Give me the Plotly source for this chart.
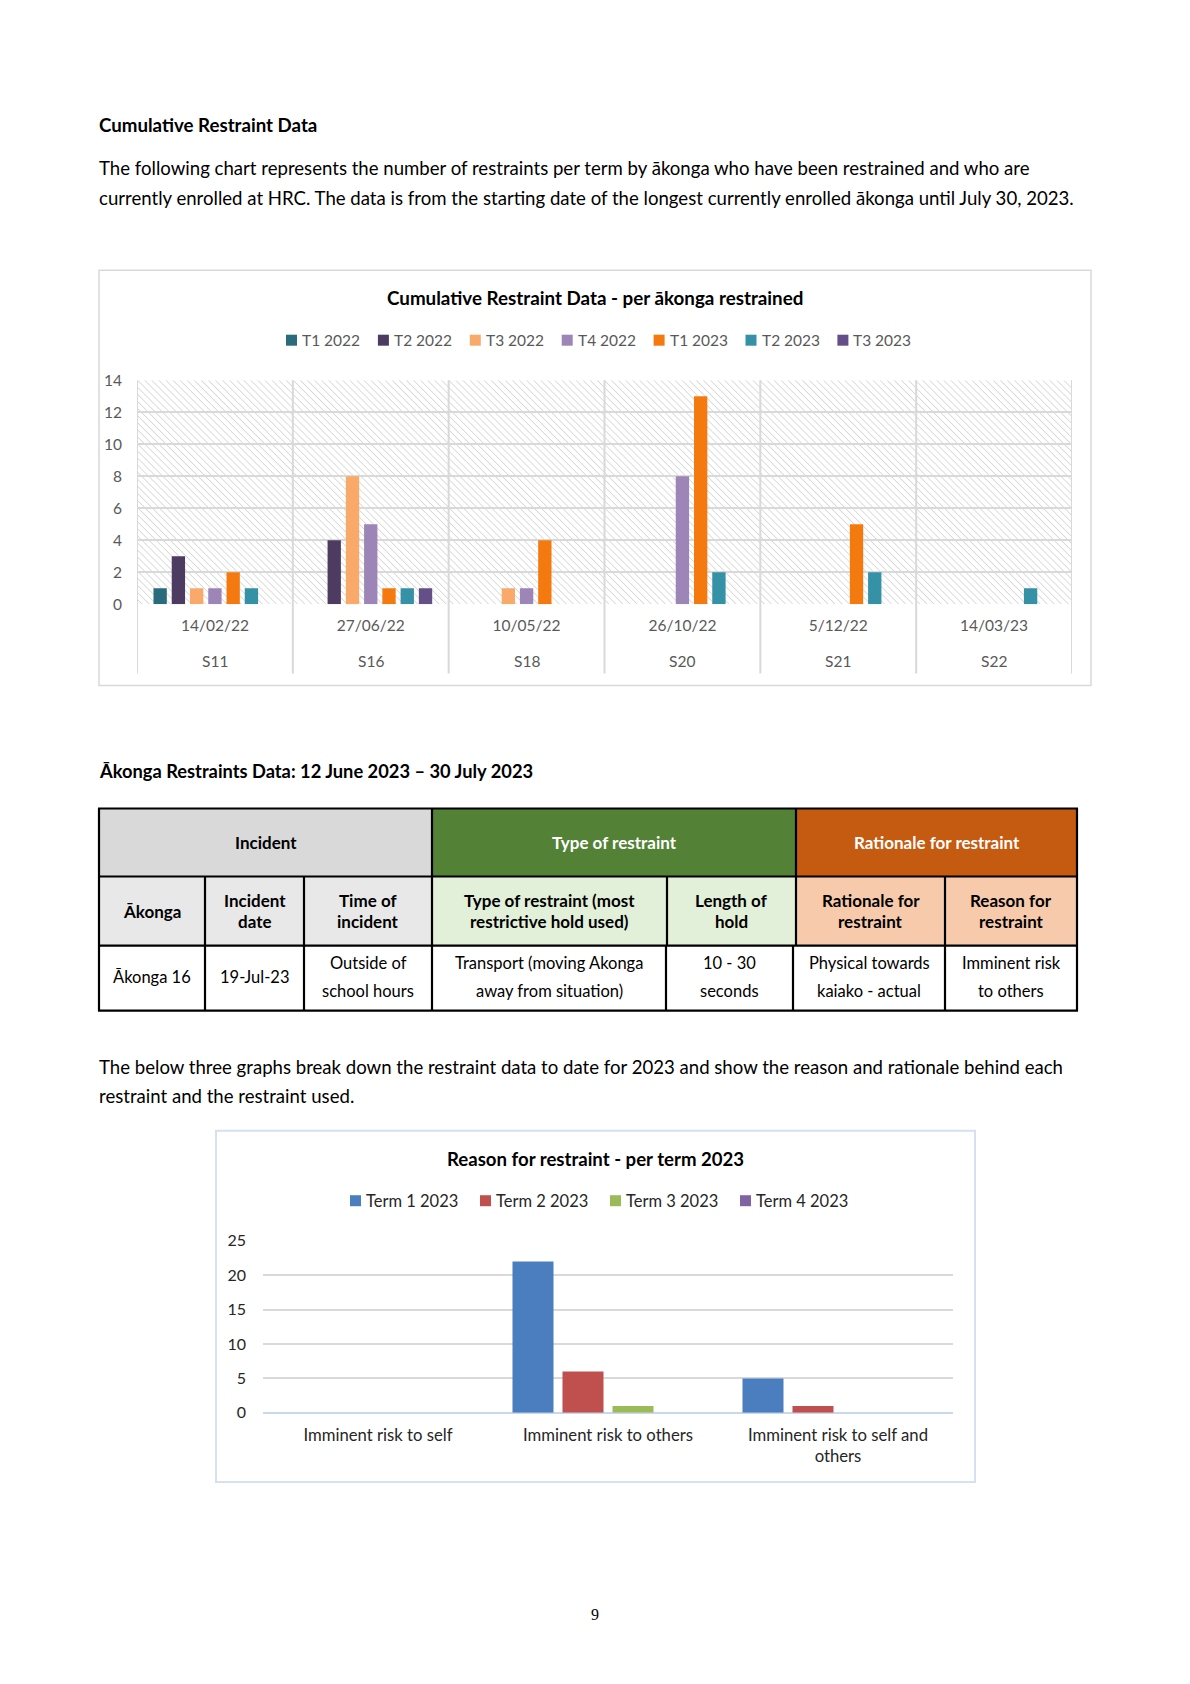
import base64
import plotly.graph_objects as go

W, H = 1190, 1684
OY = 10.0                 # vertical offset of the rendered paper
SY = (H - 2 * OY) / H     # vertical scale of the rendered paper
def px(x): return x / W
def py(y): return 1 - (y - OY) / (H * SY)
def ph(h): return h / (H * SY)

FONT = "Lato"

# ---------------- Chart 1 data ----------------
students = ["S11", "S16", "S18", "S20", "S21", "S22"]
start_dates = ["14/02/22", "27/06/22", "10/05/22", "26/10/22", "5/12/22", "14/03/23"]
terms = ["T1 2022", "T2 2022", "T3 2022", "T4 2022", "T1 2023", "T2 2023", "T3 2023"]
t1_2022 = [1, 0, 0, 0, 0, 0]
t2_2022 = [3, 4, 0, 0, 0, 0]
t3_2022 = [1, 8, 1, 0, 0, 0]
t4_2022 = [1, 5, 1, 8, 0, 0]
t1_2023 = [2, 1, 4, 13, 5, 0]
t2_2023 = [1, 1, 0, 2, 2, 1]
t3_2023 = [0, 1, 0, 0, 0, 0]
term_values = [t1_2022, t2_2022, t3_2022, t4_2022, t1_2023, t2_2023, t3_2023]
term_colors = ["#2A6B7C", "#4D3B62", "#F9AA6B", "#9D85B7", "#F47A10", "#3591A6", "#644F88"]

# ---------------- Chart 2 data ----------------
reasons = ["Imminent risk to self", "Imminent risk to others", "Imminent risk to self and others"]
reason_ticks = ["Imminent risk to self", "Imminent risk to others", "Imminent risk to self and<br>others"]
terms_2023 = ["Term 1 2023", "Term 2 2023", "Term 3 2023", "Term 4 2023"]
term1_2023 = [0, 22, 5]
term2_2023 = [0, 6, 1]
term3_2023 = [0, 1, 0]
term4_2023 = [0, 0, 0]
reason_values = [term1_2023, term2_2023, term3_2023, term4_2023]
reason_colors = ["#4A7EBF", "#C0504D", "#9BBB59", "#8064A2"]

# ---------------- Table data ----------------
group_headers = ["Incident", "Type of restraint", "Rationale for restraint"]
column_headers = ["Ākonga", "Incident\ndate", "Time of\nincident", "Type of restraint (most\nrestrictive hold used)",
                  "Length of\nhold", "Rationale for\nrestraint", "Reason for\nrestraint"]
row_values = ["Ākonga 16", "19-Jul-23", "Outside of\nschool hours", "Transport (moving Akonga\naway from situation)",
              "10 - 30\nseconds", "Physical towards\nkaiako - actual", "Imminent risk\nto others"]

fig = go.Figure()

for name, vals, col in zip(terms, term_values, term_colors):
    fig.add_trace(go.Bar(x=students, y=vals, name=name, marker=dict(color=col, line=dict(width=0)),
                         xaxis="x", yaxis="y", showlegend=False))

slot = 0.8696 / 4
barw = 0.1783
for k, (name, vals, col) in enumerate(zip(terms_2023, reason_values, reason_colors)):
    fig.add_trace(go.Bar(x=reasons, y=vals, name=name, marker=dict(color=col, line=dict(width=0)),
                         width=barw, offset=-0.4348 + k * slot + (slot - barw) / 2,
                         xaxis="x2", yaxis="y2", showlegend=False))

shapes = []
annotations = []

def text(x, y, s, size=17, bold=False, color="#000000", anchor="left", family=FONT):
    annotations.append(dict(x=px(x), y=py(y), xref="paper", yref="paper", text=(f"<b>{s}</b>" if bold else s),
                            showarrow=False, xanchor=anchor, yanchor="middle",
                            font=dict(family=family, size=size, color=color)))

def legend(names, colors, x_start, pitch, y, size, color):
    for k, (n, c) in enumerate(zip(names, colors)):
        x0 = x_start + k * pitch
        shapes.append(dict(type="rect", xref="paper", yref="paper", x0=px(x0), x1=px(x0 + 11),
                           y0=py(y + 5.5), y1=py(y - 5.5), line=dict(width=0), fillcolor=c))
        text(x0 + 14, y, n, size=size, color=color)

BODY = 18.6
# page texts
text(97, 125, "Cumulative Restraint Data", size=18.7, bold=True)
text(97, 168, "The following chart represents the number of restraints per term by ākonga who have been restrained and who are", size=BODY)
text(97, 198, "currently enrolled at HRC. The data is from the starting date of the longest currently enrolled ākonga until July 30, 2023.", size=BODY)
text(97, 771, "Ākonga Restraints Data: 12 June 2023 – 30 July 2023", size=18.3, bold=True)
text(97, 1066, "The below three graphs break down the restraint data to date for 2023 and show the reason and rationale behind each", size=BODY)
text(97, 1095, "restraint and the restraint used.", size=BODY)
text(595, 1614, "9", size=16, anchor="center", family="Liberation Serif")

# ---------------- Chart 1 frame ----------------
shapes.append(dict(type="rect", xref="paper", yref="paper", x0=px(99), x1=px(1091), y0=py(685), y1=py(270),
                   line=dict(color="#D9D9D9", width=1.5), fillcolor="rgba(0,0,0,0)", layer="below"))
text(595, 297, "Cumulative Restraint Data - per ākonga restrained", size=18.8, bold=True, anchor="center")
legend(terms, term_colors, 286, 91.9, 340, 15.5, "#595959")
for i in range(len(students) + 1):
    shapes.append(dict(type="line", xref="x", yref="paper", x0=i - 0.5, x1=i - 0.5, y0=py(673), y1=py(380),
                       line=dict(color="#D9D9D9", width=2)))
for s in students:
    annotations.append(dict(x=s, xref="x", y=py(661), yref="paper", text=s, showarrow=False,
                            xanchor="center", yanchor="middle", font=dict(family=FONT, size=15.5, color="#595959")))

# hatch background
svg = ("<svg xmlns='http://www.w3.org/2000/svg' width='935' height='224'>"
       "<defs><pattern id='h' width='5' height='5' patternUnits='userSpaceOnUse' patternTransform='rotate(-45)'>"
       "<line x1='0' y1='-1' x2='0' y2='6' stroke='#D6D6D6' stroke-width='1.6'/></pattern></defs>"
       "<rect width='100%' height='100%' fill='white'/><rect width='100%' height='100%' fill='url(#h)'/></svg>")
img_src = "data:image/svg+xml;base64," + base64.b64encode(svg.encode()).decode()

# ---------------- Chart 2 frame ----------------
shapes.append(dict(type="rect", xref="paper", yref="paper", x0=px(216), x1=px(975), y0=py(1481), y1=py(1130),
                   line=dict(color="#D5E0F0", width=2), fillcolor="rgba(0,0,0,0)", layer="below"))
text(595, 1158, "Reason for restraint - per term 2023", size=18.6, bold=True, anchor="center")
legend(terms_2023, reason_colors, 350, 130, 1200, 16.5, "#262626")

# ---------------- Table ----------------
top, r1, r2, bot = 808, 876, 945, 1010
edges_b = [99, 205, 304, 432, 667, 796, 945, 1077]
edges_c = [99, 205, 304, 432, 666, 793, 945, 1077]
group_edges = [99, 432, 796, 1077]
group_fill = ["#D9D9D9", "#538135", "#C55A11"]
group_font = ["#000000", "#FFFFFF", "#FFFFFF"]
col_fill = ["#E8E8E8", "#E8E8E8", "#E8E8E8", "#E2EFD9", "#E2EFD9", "#F7CAAC", "#F7CAAC"]
TB = 17
TR = 16.5

def rect(x0, x1, y0, y1, fill):
    shapes.append(dict(type="rect", xref="paper", yref="paper", x0=px(x0), x1=px(x1), y0=py(y1), y1=py(y0),
                       line=dict(width=0), fillcolor=fill, layer="below"))

def hline(x0, x1, y):
    shapes.append(dict(type="line", xref="paper", yref="paper", x0=px(x0), x1=px(x1), y0=py(y), y1=py(y),
                       line=dict(color="#000000", width=2.2)))

def vline(x, y0, y1):
    shapes.append(dict(type="line", xref="paper", yref="paper", x0=px(x), x1=px(x), y0=py(y0), y1=py(y1),
                       line=dict(color="#000000", width=2.2)))

for g in range(3):
    rect(group_edges[g], group_edges[g + 1], top, r1, group_fill[g])
    text((group_edges[g] + group_edges[g + 1]) / 2, (top + r1) / 2, group_headers[g], size=TB, bold=True,
         color=group_font[g], anchor="center")
for c in range(7):
    rect(edges_b[c], edges_b[c + 1], r1, r2, col_fill[c])
    lines = column_headers[c].split("\n")
    cx = (edges_b[c] + edges_b[c + 1]) / 2
    if len(lines) == 1:
        text(cx, (r1 + r2) / 2, lines[0], size=TB, bold=True, anchor="center")
    else:
        for j, ln in enumerate(lines):
            text(cx, 900 + j * 21, ln, size=TB, bold=True, anchor="center")
    lines = row_values[c].split("\n")
    cx = (edges_c[c] + edges_c[c + 1]) / 2
    if len(lines) == 1:
        text(cx, 976, lines[0], size=TR, anchor="center")
    else:
        for j, ln in enumerate(lines):
            text(cx, 962 + j * 28, ln, size=TR, anchor="center")

for y in (top, r1, r2, bot):
    hline(98, 1078, y)
for x in group_edges:
    vline(x, top, r1)
for x in edges_b:
    vline(x, r1, r2)
for x in edges_c:
    vline(x, r2, bot)

fig.update_layout(
    width=W, height=H, margin=dict(l=0, r=0, t=0, b=0),
    paper_bgcolor="white", plot_bgcolor="rgba(0,0,0,0)",
    barmode="group", bargap=0.18, bargroupgap=0.27,
    font=dict(family=FONT), showlegend=False,
    shapes=shapes, annotations=annotations,
    images=[dict(source=img_src, xref="paper", yref="paper", x=px(137), y=py(380),
                 sizex=px(1072) - px(137), sizey=ph(604 - 380), xanchor="left", yanchor="top",
                 sizing="stretch", layer="below")],
    xaxis=dict(domain=[px(137), px(1072)], anchor="y", type="category", range=[-0.5, len(students) - 0.5],
               tickvals=students, ticktext=start_dates, showgrid=False, zeroline=False, showline=False,
               ticks="", ticklabelstandoff=10, tickfont=dict(family=FONT, size=15.5, color="#595959")),
    yaxis=dict(domain=[py(604), py(380)], anchor="x", range=[0, 14], dtick=2, showgrid=True,
               gridcolor="#D9D9D9", gridwidth=2, zeroline=False, showline=False, ticks="",
               ticklabelstandoff=14, tickfont=dict(family=FONT, size=15.5, color="#595959")),
    xaxis2=dict(domain=[px(263), px(953)], anchor="y2", type="category", range=[-0.5, 2.5],
                tickvals=reasons, ticktext=reason_ticks, showgrid=False, zeroline=False, showline=False,
                ticks="", ticklabelstandoff=10, tickfont=dict(family=FONT, size=16.7, color="#262626")),
    yaxis2=dict(domain=[py(1412), py(1240)], anchor="x2", range=[0, 25], dtick=5, showgrid=True,
                gridcolor="#D9D9D9", gridwidth=2, zeroline=True, zerolinecolor="#CBD8EC", zerolinewidth=2,
                showline=False, ticks="", ticklabelstandoff=16,
                tickfont=dict(family=FONT, size=16, color="#262626")),
)

fig.write_html("out.html", config={"displayModeBar": False},
               post_script="var d=document.getElementById('{plot_id}');d.style.position='fixed';"
                           "d.style.left='0px';d.style.top='0px';document.body.style.margin='0';"
                           "document.documentElement.style.overflow='hidden';document.body.style.overflow='hidden';")
